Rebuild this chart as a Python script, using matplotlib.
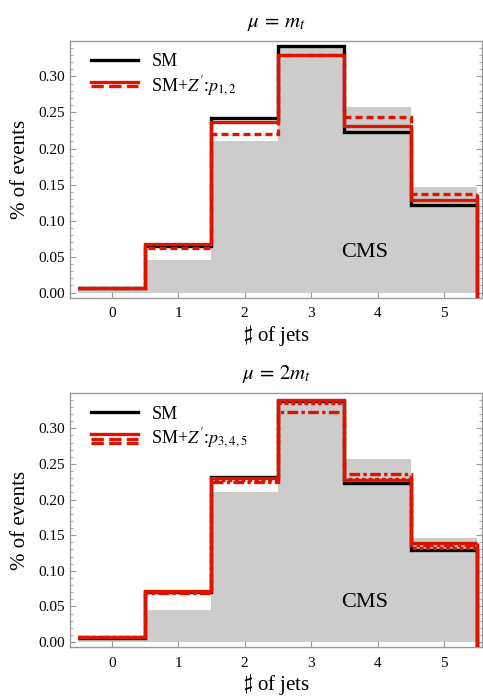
import numpy as np
import matplotlib.pyplot as plt
from matplotlib.lines import Line2D
from matplotlib.legend_handler import HandlerBase

plt.rcParams['font.family'] = ['Liberation Serif', 'DejaVu Serif']
plt.rcParams['mathtext.fontset'] = 'stix'

edges = np.arange(-0.5, 6.0, 1.0)
njets = [0, 1, 2, 3, 4, 5]

# CMS data (grey)
cms = [0.004, 0.045, 0.211, 0.341, 0.257, 0.146]

# mu = m_t
sm_1 = [0.006, 0.0646, 0.243, 0.342, 0.223, 0.121]
p1 = [0.006, 0.068, 0.237, 0.330, 0.231, 0.128]
p2 = [0.006, 0.0614, 0.2206, 0.330, 0.2437, 0.1375]

# mu = 2 m_t
sm_2 = [0.006, 0.0708, 0.2315, 0.338, 0.2236, 0.1287]
p3 = [0.007, 0.0718, 0.230, 0.340, 0.227, 0.139]
p4 = [0.007, 0.070, 0.227, 0.335, 0.229, 0.132]
p5 = [0.007, 0.069, 0.2245, 0.3227, 0.2352, 0.1366]

RED = '#dd1500'
GREY = '#cccccc'
FRAME = '#9a9a9a'
YLIM = (-0.007, 0.3496)


class Stacked(HandlerBase):
    def create_artists(self, legend, orig_handle, xdescent, ydescent,
                       width, height, fontsize, trans):
        out = []
        for i, h in enumerate(orig_handle):
            y = height * 0.7 - i * 3.0
            l = Line2D([-xdescent, width - xdescent], [y, y], color=h.get_color(),
                       lw=h.get_linewidth(), ls=h.get_linestyle())
            l.set_transform(trans)
            out.append(l)
        return out


def draw(ax, sm, reds, styles, title, label):
    ax.stairs(cms, edges, fill=True, color=GREY, zorder=1)
    ax.stairs(sm, edges, baseline=None, color='k', lw=2.4, zorder=2)
    ax.vlines(edges[-1], YLIM[0], sm[-1], color='k', lw=2.4, zorder=2)
    reds_h = []
    for vals, ls in zip(reds, styles):
        ax.stairs(vals, edges, baseline=None, color=RED, lw=2.4, ls=ls, zorder=3)
        ax.vlines(edges[-1], YLIM[0], vals[-1], color=RED, lw=2.4, zorder=3)
        reds_h.append(Line2D([], [], color=RED, lw=2.4, ls=ls))
    sm_h = Line2D([], [], color='k', lw=2.4)
    ax.legend([sm_h, tuple(reds_h)], ['SM', label],
              handler_map={tuple: Stacked()}, loc='upper left', frameon=False,
              fontsize=13, handlelength=2.6, handletextpad=0.75,
              borderaxespad=0.3, labelspacing=0.2,
              bbox_to_anchor=(0.02, 1.0))
    ax.text(3.81, 0.056, 'CMS', fontsize=16, ha='center', va='center')
    ax.set_xlim(-0.627, 5.57)
    ax.set_ylim(*YLIM)
    ax.set_xticks(njets)
    ax.set_yticks(np.arange(0, 0.31, 0.05))
    ax.set_yticks(np.arange(0, 0.35, 0.01), minor=True)
    ax.yaxis.set_major_formatter(plt.FormatStrFormatter('%.2f'))
    ax.tick_params(direction='in', colors=FRAME, labelcolor='k', labelsize=11,
                   right=True, length=4, width=0.8)
    ax.tick_params(which='minor', direction='in', colors=FRAME, right=True,
                   length=2.5, width=0.6)
    ax.tick_params(axis='x', pad=7)
    for s in ax.spines.values():
        s.set_color(FRAME)
        s.set_linewidth(1.0)
    ax.set_title(title, fontsize=15, pad=10)
    ax.set_xlabel('$\\sharp$ of jets', fontsize=15, labelpad=1)
    ax.set_ylabel('% of events', fontsize=15, labelpad=6)


fig = plt.figure(figsize=(4.83, 7.0), dpi=100)
ax1 = fig.add_axes([0.145, 0.5747, 0.853, 0.3672])
ax2 = fig.add_axes([0.145, 0.0757, 0.853, 0.3630])

draw(ax1, sm_1, [p1, p2], ['-', (0, (2.1, 1.2))], '$\\mu\\,=\\,m_t$',
     'SM+$Z^{\\prime}$:$p_{1,2}$')
draw(ax2, sm_2, [p3, p4, p5], ['-', (0, (1.2, 0.8)), (0, (3.2, 1.0, 1.0, 1.0))],
     '$\\mu\\,=\\,2m_t$', 'SM+$Z^{\\prime}$:$p_{3,4,5}$')

fig.savefig('out.png', dpi=100)
